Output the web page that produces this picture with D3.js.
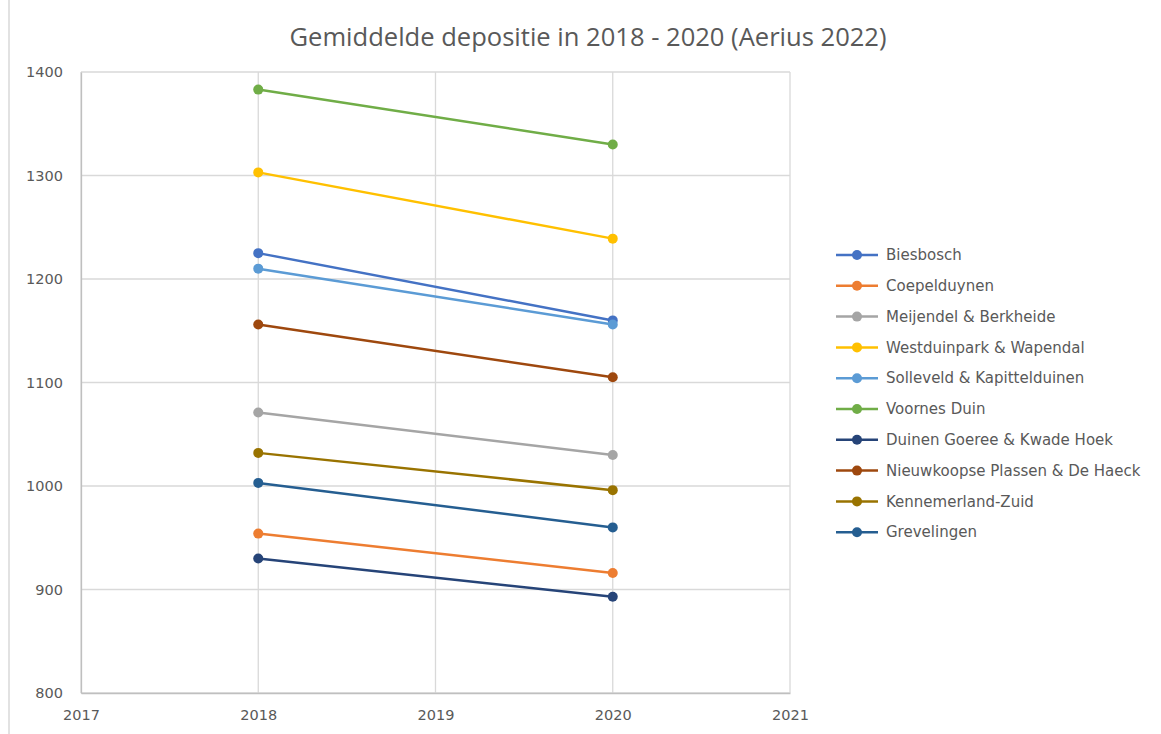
<!DOCTYPE html>
<html><head><meta charset="utf-8">
<script src="https://cdn.jsdelivr.net/npm/d3@7"></script>
<style>body{margin:0;background:#fff;}svg{display:block;}</style>
</head><body>
<svg id="c" width="1161" height="734"></svg>
<script>
const years = [2018, 2020];
const seriesNames = ["Biesbosch","Coepelduynen","Meijendel & Berkheide","Westduinpark & Wapendal","Solleveld & Kapittelduinen","Voornes Duin","Duinen Goeree & Kwade Hoek","Nieuwkoopse Plassen & De Haeck","Kennemerland-Zuid","Grevelingen"];
const biesbosch = [1225, 1160];
const coepelduynen = [954, 916];
const meijendel = [1071, 1030];
const westduinpark = [1303, 1239];
const solleveld = [1210, 1156];
const voornes = [1383, 1330];
const duinenGoeree = [930, 893];
const nieuwkoopse = [1156, 1105];
const kennemerland = [1032, 996];
const grevelingen = [1003, 960];
const seriesValues = [biesbosch, coepelduynen, meijendel, westduinpark, solleveld, voornes, duinenGoeree, nieuwkoopse, kennemerland, grevelingen];
const colors = ["#4472C4","#ED7D31","#A5A5A5","#FFC000","#5B9BD5","#70AD47","#264478","#9E480E","#997300","#255E91"];
const xTicks = [2017, 2018, 2019, 2020, 2021];
const yTicks = [800, 900, 1000, 1100, 1200, 1300, 1400];
const title = "Gemiddelde depositie in 2018 - 2020 (Aerius 2022)";

const svg = d3.select("#c");
const font = "'DejaVu Sans', Verdana, sans-serif";
const x = d3.scaleLinear().domain([2017, 2021]).range([81, 790]);
const y = d3.scaleLinear().domain([800, 1400]).range([693, 72]);

// frame line at left
svg.append("line").attr("x1",9).attr("x2",9).attr("y1",0).attr("y2",734).attr("stroke","#d9d9d9").attr("stroke-width",1.5);

svg.append("text").attr("x", 588).attr("y", 46).attr("text-anchor","middle")
  .attr("font-family", "'Liberation Sans Narrow', 'Open Sans', sans-serif").attr("font-size", 25).attr("fill","#595959")
  .attr("textLength", 597).attr("lengthAdjust", "spacingAndGlyphs").text(title);

// gridlines
svg.append("g").selectAll("line").data(yTicks).join("line")
  .attr("x1", x(2017)).attr("x2", x(2021)).attr("y1", d=>y(d)).attr("y2", d=>y(d))
  .attr("stroke","#d9d9d9").attr("stroke-width",1.3);
svg.append("g").selectAll("line").data(xTicks).join("line")
  .attr("x1", d=>x(d)).attr("x2", d=>x(d)).attr("y1", y(800)).attr("y2", y(1400))
  .attr("stroke","#d9d9d9").attr("stroke-width",1.3);

// axes
const yAxis = svg.append("g").attr("transform", `translate(${x(2017)},0)`)
  .call(d3.axisLeft(y).tickValues(yTicks).tickSize(0).tickPadding(18).tickFormat(d3.format("d")));
yAxis.select(".domain").attr("stroke","#bfbfbf").attr("stroke-width",1.3);
yAxis.selectAll("text").attr("font-family", font).attr("font-size", 14.5).attr("fill","#595959");

const xAxis = svg.append("g").attr("transform", `translate(0,${y(800)})`)
  .call(d3.axisBottom(x).tickValues(xTicks).tickSize(0).tickPadding(17).tickFormat(d3.format("d")));
xAxis.select(".domain").attr("stroke","#bfbfbf").attr("stroke-width",1.3);
xAxis.selectAll("text").attr("font-family", font).attr("font-size", 14.5).attr("fill","#595959");

const line = d3.line().x((d,i)=>x(years[i])).y(d=>y(d));
seriesValues.forEach((vals, s) => {
  const g = svg.append("g");
  g.append("path").datum(vals).attr("d", line).attr("fill","none").attr("stroke", colors[s]).attr("stroke-width",2.5);
  g.selectAll("circle").data(vals).join("circle")
    .attr("cx",(d,i)=>x(years[i])).attr("cy", d=>y(d)).attr("r",5).attr("fill", colors[s]);
});

// legend
const lg = svg.append("g");
seriesNames.forEach((name, i) => {
  const ly = 255 + i * 30.8;
  lg.append("line").attr("x1", 836).attr("x2", 878).attr("y1", ly).attr("y2", ly).attr("stroke", colors[i]).attr("stroke-width",2.5);
  lg.append("circle").attr("cx", 857).attr("cy", ly).attr("r", 5).attr("fill", colors[i]);
  lg.append("text").attr("x", 886).attr("y", ly).attr("dy","0.35em").attr("font-family", font)
    .attr("font-size", 15).attr("fill","#595959").text(name);
});
</script>
</body></html>
